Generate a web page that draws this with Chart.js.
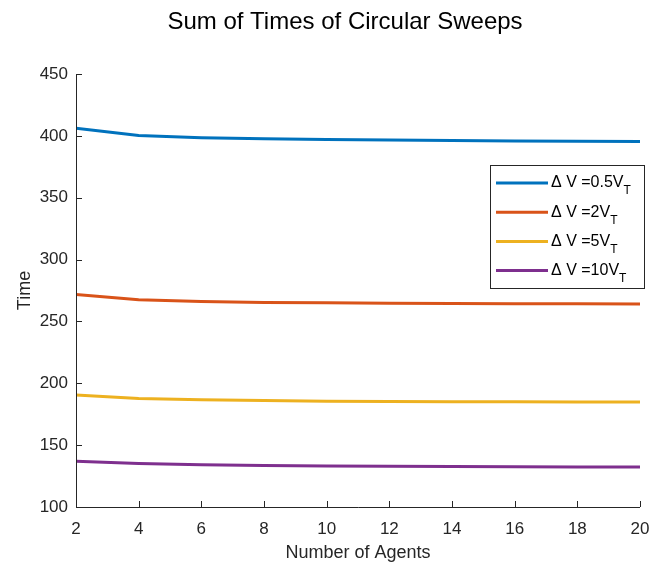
<!DOCTYPE html>
<html>
<head>
<meta charset="utf-8">
<script src="https://cdn.jsdelivr.net/npm/chart.js@4/dist/chart.umd.min.js"></script>
<style>
  html, body { margin: 0; padding: 0; background: #fff; }
  #wrap { width: 659px; height: 564px; position: relative; }
</style>
</head>
<body>
<div id="wrap"><canvas id="chart" width="659" height="564"></canvas></div>
<script>
// Sweep time totals vs number of agents, one series per velocity gap
const agents = [2, 4, 6, 8, 10, 12, 14, 16, 18, 20];
const dv05 = [406.1, 400.2, 398.5, 397.6, 397.0, 396.6, 396.2, 395.9, 395.6, 395.4];
const dv2 = [271.8, 267.6, 266.2, 265.4, 265.0, 264.7, 264.5, 264.3, 264.2, 264.0];
const dv5 = [190.5, 187.8, 186.7, 186.0, 185.5, 185.3, 185.1, 185.0, 184.9, 184.8];
const dv10 = [136.9, 135.1, 134.2, 133.6, 133.2, 132.9, 132.7, 132.6, 132.4, 132.3];
const seriesNames = ['Δ V =0.5V_T', 'Δ V =2V_T', 'Δ V =5V_T', 'Δ V =10V_T'];
const yTicks = [100, 150, 200, 250, 300, 350, 400, 450];
const xTicks = [2, 4, 6, 8, 10, 12, 14, 16, 18, 20];

const colors = ['#0072BD', '#D95319', '#EDB120', '#7E2F8E'];
const FONT = '"Liberation Sans", Arial, Helvetica, sans-serif';
const AXIS = '#262626';

// title drawn above the plot, slightly left of the axes centre
const titlePlugin = {
  id: 'topTitle',
  afterDraw(chart) {
    const ctx = chart.ctx;
    ctx.save();
    ctx.font = '24px ' + FONT;
    ctx.fillStyle = '#000';
    ctx.textAlign = 'center';
    ctx.textBaseline = 'alphabetic';
    ctx.fillText('Sum of Times of Circular Sweeps', 345, 29);
    ctx.restore();
  }
};

// left/bottom axis lines with inward ticks
const axesPlugin = {
  id: 'matAxes',
  afterDatasetsDraw(chart) {
    const { ctx, chartArea: a, scales } = chart;
    ctx.save();
    ctx.strokeStyle = AXIS;
    ctx.lineWidth = 1;
    ctx.beginPath();
    ctx.moveTo(a.left + 0.5, a.top);
    ctx.lineTo(a.left + 0.5, a.bottom + 0.5);
    ctx.lineTo(a.right, a.bottom + 0.5);
    scales.x.ticks.forEach(t => {
      const px = Math.round(scales.x.getPixelForValue(t.value)) + 0.5;
      ctx.moveTo(px, a.bottom);
      ctx.lineTo(px, a.bottom - 6);
    });
    scales.y.ticks.forEach(t => {
      const py = Math.round(scales.y.getPixelForValue(t.value)) + 0.5;
      ctx.moveTo(a.left, py);
      ctx.lineTo(a.left + 6, py);
    });
    ctx.stroke();
    ctx.restore();
  }
};

// boxed legend inside the plot, labels with subscript T
const legendPlugin = {
  id: 'boxLegend',
  afterDraw(chart) {
    const ctx = chart.ctx;
    const x0 = 490.5, y0 = 165.5, w = 154, h = 123;
    ctx.save();
    ctx.fillStyle = '#fff';
    ctx.fillRect(x0, y0, w, h);
    ctx.strokeStyle = AXIS;
    ctx.lineWidth = 1;
    ctx.strokeRect(x0, y0, w, h);
    chart.data.datasets.forEach((ds, i) => {
      const y = 183 + i * 29.2;
      ctx.strokeStyle = ds.borderColor;
      ctx.lineWidth = 3;
      ctx.beginPath();
      ctx.moveTo(496, y);
      ctx.lineTo(548, y);
      ctx.stroke();
      const [main, sub] = ds.label.split('_');
      ctx.fillStyle = '#000';
      ctx.textBaseline = 'middle';
      ctx.textAlign = 'left';
      ctx.font = '16px ' + FONT;
      ctx.fillText(main, 551, y);
      const mw = ctx.measureText(main).width;
      ctx.font = '12px ' + FONT;
      ctx.fillText(sub, 551 + mw, y + 8);
    });
    ctx.restore();
  }
};

const datasets = [dv05, dv2, dv5, dv10].map((vals, i) => ({
  label: seriesNames[i],
  data: agents.map((a, j) => ({ x: a, y: vals[j] })),
  borderColor: colors[i],
  backgroundColor: colors[i],
  borderWidth: 3,
  pointRadius: 0,
  tension: 0,
  fill: false
}));

new Chart(document.getElementById('chart'), {
  type: 'line',
  data: { datasets },
  plugins: [titlePlugin, axesPlugin, legendPlugin],
  options: {
    responsive: false,
    animation: false,
    layout: { padding: { top: 74, right: 19, left: 0, bottom: 0 } },
    plugins: { legend: { display: false }, title: { display: false }, tooltip: { enabled: false } },
    scales: {
      x: {
        type: 'linear',
        min: 2, max: 20,
        afterBuildTicks: s => { s.ticks = xTicks.map(v => ({ value: v })); },
        afterFit: s => { s.height = 57; },
        border: { display: false },
        grid: { display: false },
        ticks: { color: AXIS, font: { family: FONT, size: 17 }, padding: 4, maxRotation: 0 },
        title: { display: true, text: 'Number of Agents', color: AXIS, font: { family: FONT, size: 18 }, padding: { top: 0, bottom: 0 } }
      },
      y: {
        min: 100, max: 450,
        afterBuildTicks: s => { s.ticks = yTicks.map(v => ({ value: v })); },
        afterFit: s => { s.width = 76; },
        border: { display: false },
        grid: { display: false },
        ticks: { color: AXIS, font: { family: FONT, size: 17 }, padding: 0 },
        title: { display: true, text: 'Time', color: AXIS, font: { family: FONT, size: 18 }, padding: { top: 14, bottom: 4 } }
      }
    }
  }
});
</script>
</body>
</html>
